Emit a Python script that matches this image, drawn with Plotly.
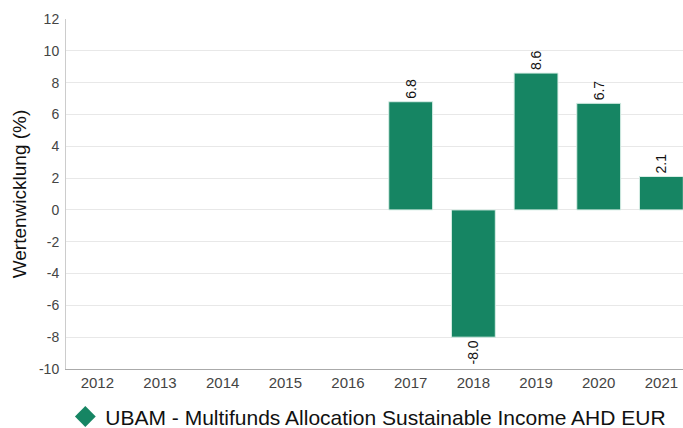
import plotly.graph_objects as go

years = ["2012", "2013", "2014", "2015", "2016", "2017", "2018", "2019", "2020", "2021"]
values = [None, None, None, None, None, 6.8, -8.0, 8.6, 6.7, 2.1]
series_name = "UBAM - Multifunds Allocation Sustainable Income AHD EUR"
y_ticks = [-10, -8, -6, -4, -2, 0, 2, 4, 6, 8, 10, 12]
y_tick_text = [str(v) for v in y_ticks]

color = "#168563"
font = "Liberation Sans, Arial, sans-serif"

fig = go.Figure()
fig.add_trace(go.Bar(
    x=years, y=values,
    marker=dict(color=color, line=dict(color="#d8eee6", width=1)),
    text=[("" if v is None else f"{v:.1f}") for v in values],
    textposition="outside", textangle=-90,
    textfont=dict(family=font, size=14, color="#111111"),
    cliponaxis=False, width=0.7, showlegend=False,
))
fig.add_trace(go.Scatter(
    x=[None], y=[None], mode="markers", name=series_name,
    marker=dict(symbol="diamond", color=color, size=22),
))

fig.update_layout(
    width=683, height=428,
    margin=dict(l=66, r=0, t=19, b=59, autoexpand=False),
    paper_bgcolor="white", plot_bgcolor="white",
    font=dict(family=font, color="#333333"),
    showlegend=True,
    legend=dict(orientation="h", x=0.49, xanchor="center", xref="paper",
                y=0.026, yanchor="middle", yref="container", itemwidth=30,
                font=dict(family=font, size=21, color="#111111")),
    xaxis=dict(type="category", range=[-0.5, 9.345], showline=True, linecolor="#aaaaaa", linewidth=1,
               tickfont=dict(size=15, color="#444444"), ticks="", showgrid=False),
    yaxis=dict(range=[-10, 12], tickvals=y_ticks, ticktext=y_tick_text, showgrid=True, gridcolor="#e8e8e8",
               showline=True, linecolor="#cccccc", linewidth=1, zeroline=False,
               tickfont=dict(size=14, color="#444444"), ticks="", ticklabelstandoff=3,
               title=dict(text="Wertenwicklung (%)", font=dict(size=19, color="#111111"), standoff=7)),
)

fig.write_html("out.html", config={"displayModeBar": False},
               post_script="document.body.style.margin='0';document.body.style.overflow='hidden';")
